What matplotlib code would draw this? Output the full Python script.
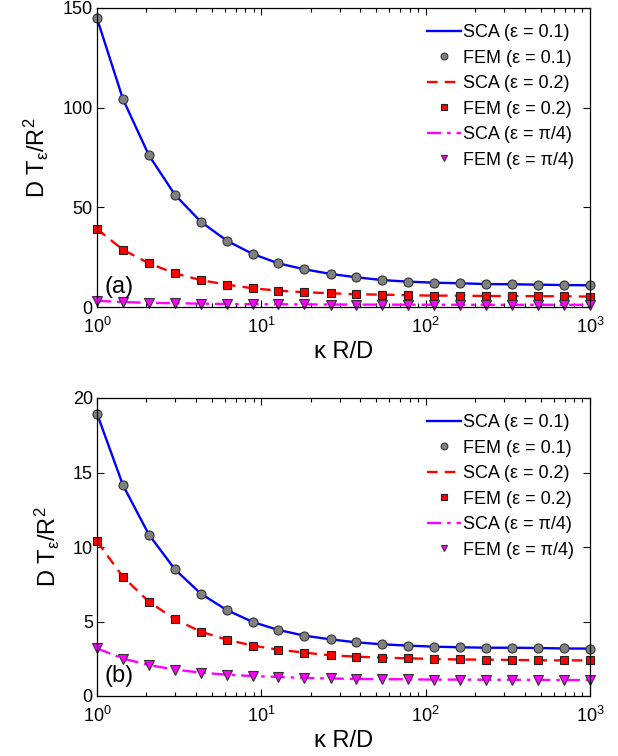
import matplotlib
matplotlib.use('Agg')
import matplotlib.pyplot as plt
from matplotlib.ticker import LogLocator, NullFormatter

plt.rcParams['font.family'] = ['Liberation Sans', 'DejaVu Sans']
plt.rcParams['mathtext.default'] = 'regular'

# kappa R / D sample points
kappa = [1, 1.44, 2.07, 2.98, 4.28, 6.16, 8.86, 12.7, 18.3, 26.4,
         37.9, 54.6, 78.5, 113, 162, 234, 336, 483, 695, 1000]

# panel (a)
fem01_a = [144.8, 104.2, 76.1, 56.3, 42.8, 33.3, 26.6, 21.9, 18.9, 16.6,
           14.9, 13.5, 12.7, 12.2, 11.9, 11.5, 11.4, 11.2, 11.0, 10.9]
fem02_a = [39.1, 28.7, 21.9, 16.9, 13.5, 11.2, 9.4, 8.2, 7.4, 6.9,
           6.4, 6.2, 5.9, 5.7, 5.7, 5.5, 5.5, 5.4, 5.4, 5.2]
fempi_a = [3.1, 2.5, 2.1, 1.9, 1.7, 1.5, 1.4, 1.35, 1.3, 1.25,
           1.2, 1.18, 1.15, 1.13, 1.12, 1.1, 1.1, 1.1, 1.1, 1.1]

# panel (b)
fem01_b = [18.95, 14.14, 10.83, 8.50, 6.87, 5.77, 4.97, 4.43, 4.05, 3.80,
           3.60, 3.47, 3.38, 3.31, 3.27, 3.24, 3.24, 3.22, 3.19, 3.18]
fem02_b = [10.38, 7.99, 6.33, 5.15, 4.32, 3.78, 3.38, 3.11, 2.91, 2.73,
           2.64, 2.57, 2.53, 2.48, 2.45, 2.44, 2.42, 2.40, 2.39, 2.39]
fempi_b = [3.20, 2.51, 2.08, 1.77, 1.57, 1.43, 1.34, 1.28, 1.21, 1.18,
           1.14, 1.13, 1.12, 1.10, 1.10, 1.09, 1.09, 1.08, 1.07, 1.07]

# the SCA curves run through the FEM points
sca01_a, sca02_a, scapi_a = fem01_a, fem02_a, fempi_a
sca01_b, sca02_b, scapi_b = fem01_b, fem02_b, fempi_b

y_ticks_a = [0, 50, 100, 150]
y_ticks_b = [0, 5, 10, 15, 20]


def draw_panel(ax, sca01, fem01, sca02, fem02, scapi, fempi, ymax, yticks, tag):
    ax.plot(kappa, sca01, '-', color='#0000ff', lw=1.7, label='SCA (ε = 0.1)')
    ax.plot(kappa, fem01, 'o', ms=6.5, mfc='#808080', mec='#333333', mew=0.8,
            ls='none', clip_on=False, label='FEM (ε = 0.1)')
    ax.plot(kappa, sca02, '--', color='#ff0000', lw=1.7, dashes=(4.5, 3),
            label='SCA (ε = 0.2)')
    ax.plot(kappa, fem02, 's', ms=5.5, mfc='#ff0000', mec='#222222', mew=0.8,
            ls='none', clip_on=False, label='FEM (ε = 0.2)')
    ax.plot(kappa, scapi, '-.', color='#ff00ff', lw=1.7, dashes=(6, 2.5, 1.5, 2.5),
            label='SCA (ε = π/4)')
    ax.plot(kappa, fempi, 'v', ms=6.5, mfc='#ff00ff', mec='#333333', mew=0.8,
            ls='none', clip_on=False, label='FEM (ε = π/4)')

    ax.set_xscale('log')
    ax.set_xlim(1, 1000)
    ax.set_ylim(0, ymax)
    ax.set_yticks(yticks)
    ax.xaxis.set_minor_locator(LogLocator(base=10, subs=range(2, 10)))
    ax.xaxis.set_minor_formatter(NullFormatter())
    ax.tick_params(which='both', direction='in', top=True, right=True,
                   labelsize=13, width=0.8)
    ax.tick_params(which='major', length=5)
    ax.tick_params(which='minor', length=3)
    ax.tick_params(axis='x', which='major', pad=7)
    ax.tick_params(axis='y', which='major', pad=3)
    for s in ax.spines.values():
        s.set_linewidth(0.9)

    ax.set_xlabel('κ R/D', fontsize=17, labelpad=3)
    ax.set_ylabel('D T$_{ε}$/R$^{2}$', fontsize=17, labelpad=8)
    ax.text(0.015, 0.03, tag, transform=ax.transAxes, fontsize=17,
            ha='left', va='bottom')

    ax.legend(loc='upper right', frameon=False, fontsize=13, labelspacing=0.47,
              handlelength=1.9, handletextpad=0.1, borderaxespad=0.5,
              markerscale=0.75, numpoints=1)


fig = plt.figure(figsize=(6.18, 7.56), dpi=100)
ax_a = fig.add_axes([97 / 618, 1 - 307 / 756, 493 / 618, 299 / 756])
ax_b = fig.add_axes([97 / 618, 1 - 696 / 756, 493 / 618, 298 / 756])

draw_panel(ax_a, sca01_a, fem01_a, sca02_a, fem02_a, scapi_a, fempi_a,
           150, y_ticks_a, '(a)')
draw_panel(ax_b, sca01_b, fem01_b, sca02_b, fem02_b, scapi_b, fempi_b,
           20, y_ticks_b, '(b)')

fig.savefig('out.png', dpi=100)
